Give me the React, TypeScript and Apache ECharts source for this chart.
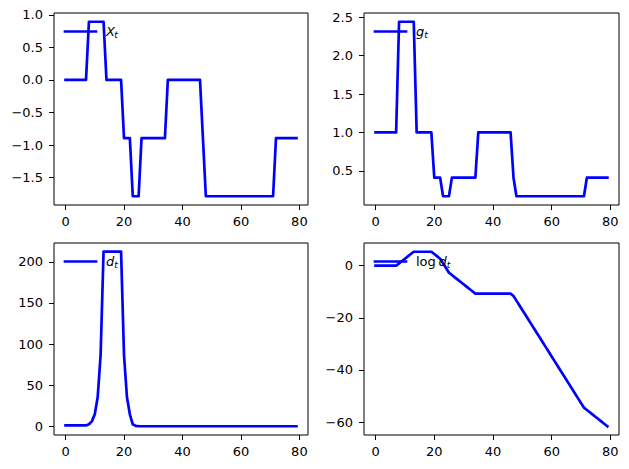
import React, { useEffect, useRef } from "react";
import * as echarts from "echarts";

// X_t (Markov state)
const xValues = [
  0, 0, 0, 0, 0, 0, 0, 0,
  0.893, 0.893, 0.893, 0.893, 0.893, 0.893,
  0, 0, 0, 0, 0, 0,
  -0.893, -0.893, -0.893,
  -1.786, -1.786, -1.786,
  -0.893, -0.893, -0.893, -0.893, -0.893, -0.893, -0.893, -0.893, -0.893,
  0, 0, 0, 0, 0, 0, 0, 0, 0, 0, 0, 0,
  -0.893,
  -1.786, -1.786, -1.786, -1.786, -1.786, -1.786, -1.786, -1.786, -1.786, -1.786, -1.786, -1.786,
  -1.786, -1.786, -1.786, -1.786, -1.786, -1.786, -1.786, -1.786, -1.786, -1.786, -1.786, -1.786,
  -0.893, -0.893, -0.893, -0.893, -0.893, -0.893, -0.893, -0.893,
];

// g_t
const gValues = [
  1, 1, 1, 1, 1, 1, 1, 1,
  2.442, 2.442, 2.442, 2.442, 2.442, 2.442,
  1, 1, 1, 1, 1, 1,
  0.4095, 0.4095, 0.4095,
  0.1676, 0.1676, 0.1676,
  0.4095, 0.4095, 0.4095, 0.4095, 0.4095, 0.4095, 0.4095, 0.4095, 0.4095,
  1, 1, 1, 1, 1, 1, 1, 1, 1, 1, 1, 1,
  0.4095,
  0.1676, 0.1676, 0.1676, 0.1676, 0.1676, 0.1676, 0.1676, 0.1676, 0.1676, 0.1676, 0.1676, 0.1676,
  0.1676, 0.1676, 0.1676, 0.1676, 0.1676, 0.1676, 0.1676, 0.1676, 0.1676, 0.1676, 0.1676, 0.1676,
  0.4095, 0.4095, 0.4095, 0.4095, 0.4095, 0.4095, 0.4095, 0.4095,
];

// d_t
const dValues = [
  1, 1, 1, 1, 1, 1, 1, 1,
  2.442, 5.966, 14.57, 35.59, 86.92, 212.3,
  212.3, 212.3, 212.3, 212.3, 212.3, 212.3,
  86.92, 35.59, 14.57, 2.442, 0.4095, 0.0686,
  0.0281, 0.0115, 0.0047, 0.0019, 0.0008, 0.0003, 0.0001, 0.0001, 0.00002,
  0.00002, 0.00002, 0.00002, 0.00002, 0.00002, 0.00002, 0.00002, 0.00002, 0.00002, 0.00002, 0.00002, 0.00002,
  0, 0, 0, 0, 0, 0, 0, 0, 0, 0, 0,
  0, 0, 0, 0, 0, 0, 0, 0, 0, 0, 0,
  0, 0, 0, 0, 0, 0, 0, 0, 0, 0, 0,
];

// log d_t
const logDValues = [
  0, 0, 0, 0, 0, 0, 0, 0,
  0.893, 1.786, 2.679, 3.572, 4.465, 5.358,
  5.358, 5.358, 5.358, 5.358, 5.358, 5.358,
  4.465, 3.572, 2.679, 0.893, -0.893, -2.679,
  -3.572, -4.465, -5.358, -6.251, -7.144, -8.037, -8.93, -9.823, -10.716,
  -10.716, -10.716, -10.716, -10.716, -10.716, -10.716, -10.716, -10.716, -10.716, -10.716, -10.716, -10.716,
  -11.609,
  -13.395, -15.181, -16.967, -18.753, -20.539, -22.325, -24.111, -25.897, -27.683, -29.469, -31.255, -33.041,
  -34.827, -36.613, -38.399, -40.185, -41.971, -43.757, -45.543, -47.329, -49.115, -50.901, -52.687, -54.473,
  -55.366, -56.259, -57.152, -58.045, -58.938, -59.831, -60.724, -61.617,
];

const xTicks = [0, 20, 40, 60, 80];
const xTTicks = [-1.5, -1.0, -0.5, 0.0, 0.5, 1.0];
const gTicks = [0.5, 1.0, 1.5, 2.0, 2.5];
const dTicks = [0, 50, 100, 150, 200];
const logDTicks = [-60, -40, -20, 0];

const FONT = "DejaVu Sans";
const BLUE = "#0000ff";
const LW = 2.7;

const panels = [
  { values: xValues, ticks: xTTicks, min: -1.92, max: 1.027, dec: 1, left: 54, top: 13, width: 254 },
  { values: gValues, ticks: gTicks, min: 0.0539, max: 2.5557, dec: 1, left: 364, top: 13, width: 255 },
  { values: dValues, ticks: dTicks, min: -10.615, max: 222.9, dec: 0, left: 54, top: 243, width: 254 },
  { values: logDValues, ticks: logDTicks, min: -64.966, max: 8.707, dec: 0, left: 364, top: 243, width: 255 },
];
const PANEL_H = 192;

function fmt(v: number, dec: number) {
  return v.toFixed(dec).replace("-", "\u2212");
}

export default function App() {
  const ref = useRef<HTMLDivElement>(null);
  useEffect(() => {
    if (!ref.current) return;
    const chart = echarts.init(ref.current, null, { renderer: "svg" });

    const grid = panels.map((p) => ({
      left: p.left,
      top: p.top,
      width: p.width,
      height: PANEL_H,
      show: true,
      borderColor: "#000",
      borderWidth: 1,
      backgroundColor: "#fff",
    }));

    const xAxis = panels.map((_, i) => ({
      type: "value",
      gridIndex: i,
      position: "bottom",
      min: -3.95,
      max: 82.95,
      axisLine: { show: false, onZero: false },
      splitLine: { show: false },
      axisTick: { show: true, length: 5, customValues: xTicks, lineStyle: { color: "#000", width: 1 } },
      axisLabel: {
        customValues: xTicks,
        margin: 10,
        color: "#000",
        fontFamily: FONT,
        fontSize: 13,
        formatter: (v: number) => fmt(v, 0),
      },
    }));

    const yAxis = panels.map((p, i) => ({
      type: "value",
      gridIndex: i,
      position: "left",
      min: p.min,
      max: p.max,
      axisLine: { show: false, onZero: false },
      splitLine: { show: false },
      axisTick: { show: true, length: 5, customValues: p.ticks, lineStyle: { color: "#000", width: 1 } },
      axisLabel: {
        customValues: p.ticks,
        margin: 11,
        color: "#000",
        fontFamily: FONT,
        fontSize: 13,
        formatter: (v: number) => fmt(v, p.dec),
      },
    }));

    const series = panels.map((p, i) => ({
      type: "line",
      xAxisIndex: i,
      yAxisIndex: i,
      data: p.values.map((v, t) => [t, v]),
      showSymbol: false,
      symbol: "none",
      lineStyle: { color: BLUE, width: LW, cap: "square", join: "round" },
      z: 2,
    }));

    const legendEls: any[] = [];
    const labels = [
      { pre: "", main: "X", sub: "t", mainW: 8.2 },
      { pre: "", main: "g", sub: "t", mainW: 8.2 },
      { pre: "", main: "d", sub: "t", mainW: 8.2 },
      { pre: "log ", main: "d", sub: "t", mainW: 8.2 },
    ];
    panels.forEach((p, i) => {
      const y = p.top + 18.5;
      const x0 = p.left + 11;
      legendEls.push({
        type: "line",
        z: 100,
        shape: { x1: x0, y1: y, x2: x0 + 31, y2: y },
        style: { stroke: BLUE, lineWidth: LW, lineCap: "square" },
      });
      const l = labels[i];
      let tx = p.left + 52;
      if (l.pre) {
        legendEls.push({
          type: "text",
          z: 100,
          x: tx,
          y: y,
          style: { text: "log", fill: "#000", font: `13px '${FONT}'`, textVerticalAlign: "middle", textAlign: "left" },
        });
        tx += 22.5;
      }
      legendEls.push({
        type: "text",
        z: 100,
        x: tx,
        y: y,
        style: { text: l.main, fill: "#000", font: `italic 13px '${FONT}'`, textVerticalAlign: "middle", textAlign: "left" },
      });
      legendEls.push({
        type: "text",
        z: 100,
        x: tx + l.mainW,
        y: y + 3.5,
        style: { text: l.sub, fill: "#000", font: `italic 9px '${FONT}'`, textVerticalAlign: "middle", textAlign: "left" },
      });
    });

    chart.setOption({
      animation: false,
      backgroundColor: "#fff",
      grid,
      xAxis,
      yAxis,
      series,
      graphic: legendEls,
    } as any);

    return () => chart.dispose();
  }, []);

  return (
    <div
      ref={ref}
      style={{ position: "absolute", left: 0, top: 0, width: 629, height: 469, background: "#fff" }}
    />
  );
}
